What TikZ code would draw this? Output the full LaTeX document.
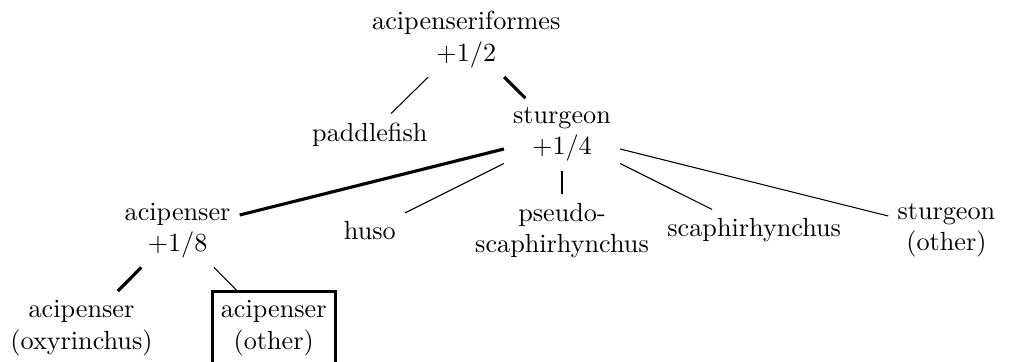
\documentclass[tikz,border=0pt]{standalone}
\begin{document}
\begin{tikzpicture}[x=0.38168pt,y=-0.38168pt,
  taxon/.style={align=center},
  chosen/.style={align=center,draw,very thick},
  mainedge/.style={very thick},
  sideedge/.style={}]
\useasboundingbox (0,0) rectangle (1015,362);
\node[taxon] (root) at (466.3,39.5) {acipenseriformes\\$+1/2$};
\node[taxon] (paddle) at (369.8,134.5) {paddlefish};
\node[taxon] (sturg) at (562,134.5) {sturgeon\\$+1/4$};
\node[taxon] (acip) at (177.6,230.5) {acipenser\\$+1/8$};
\node[taxon] (huso) at (369.8,230.5) {huso};
\node[taxon] (pseudo) at (562,230.5) {pseudo-\\scaphirhynchus};
\node[taxon] (scaph) at (754.2,230.5) {scaphirhynchus};
\node[taxon] (sother) at (946.4,230.5) {sturgeon\\(other)};
\node[taxon] (oxy) at (81.5,328) {acipenser\\(oxyrinchus)};
\node[chosen] (aother) at (273.7,328) {acipenser\\(other)};
\draw[sideedge] (root) -- (paddle);
\draw[mainedge] (root) -- (sturg);
\draw[mainedge] (sturg) -- (acip);
\draw[sideedge] (sturg) -- (huso);
\draw[sideedge] (sturg) -- (pseudo);
\draw[sideedge] (sturg) -- (scaph);
\draw[sideedge] (sturg) -- (sother);
\draw[mainedge] (acip) -- (oxy);
\draw[sideedge] (acip) -- (aother);
\end{tikzpicture}
\end{document}
